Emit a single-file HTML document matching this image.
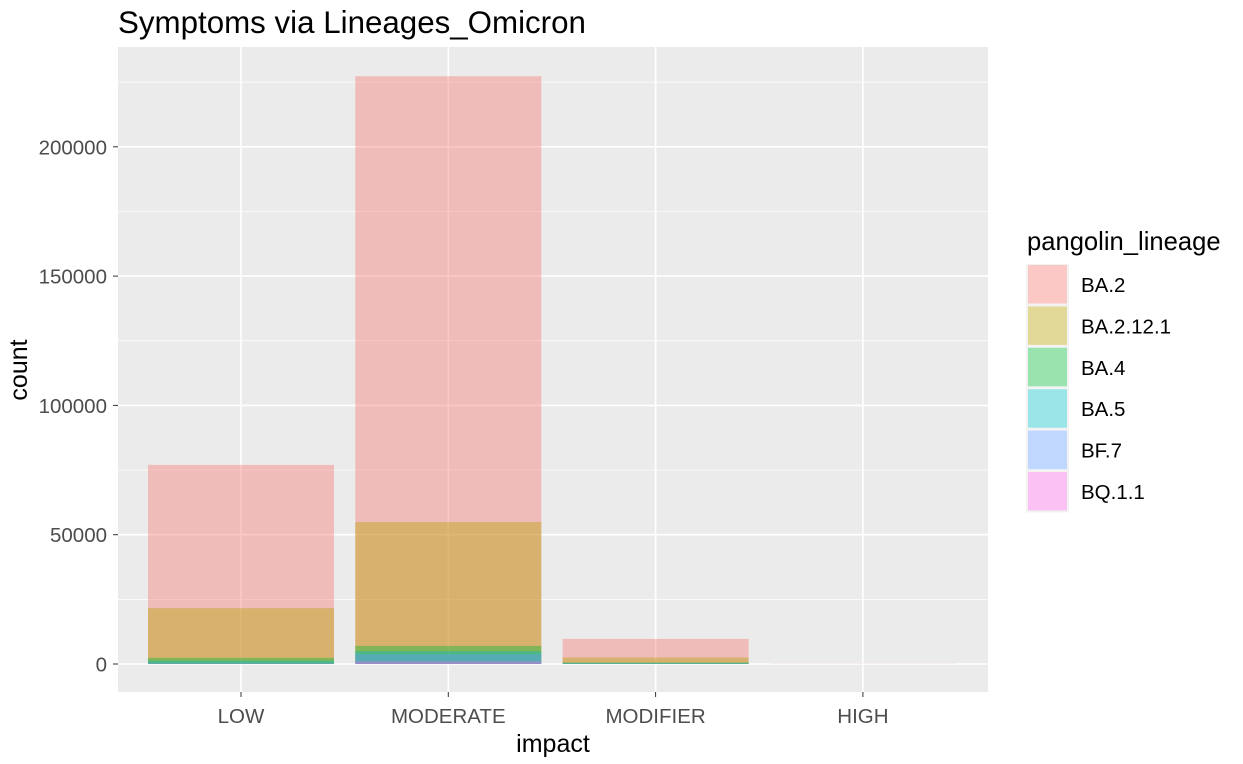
<!DOCTYPE html>
<html><head><meta charset="utf-8"><style>
body{margin:0;background:#fff;font-family:"Liberation Sans",sans-serif}
</style></head><body>
<svg id="c" width="1243" height="759" xmlns="http://www.w3.org/2000/svg">
<text x="118" y="33" font-size="31.3" fill="#000">Symptoms via Lineages_Omicron</text>
<rect x="118" y="47" width="870" height="645" fill="#EBEBEB"/>
<g id="grid"></g><g id="bars"></g><g id="axes"></g><g id="legend"></g>
<text x="553" y="752" font-size="25" text-anchor="middle" fill="#000">impact</text>
<text transform="translate(27,370) rotate(-90)" font-size="25" text-anchor="middle" fill="#000">count</text>
</svg>
<script>
const categories=["LOW","MODERATE","MODIFIER","HIGH"];
const lineages=["BA.2","BA.2.12.1","BA.4","BA.5","BF.7","BQ.1.1"];
const colors=["#F8766D","#B79F00","#00BA38","#00BFC4","#619CFF","#F564E3"];
const BA2=[77000,227300,9700,60];
const BA2121=[21600,54900,2500,20];
const BA4=[2400,7000,600,5];
const BA5=[1300,5000,400,5];
const BF7=[300,3800,100,2];
const BQ11=[100,1000,50,1];
const series=[BA2,BA2121,BA4,BA5,BF7,BQ11];
const yTicks=[0,50000,100000,150000,200000];
const ns="http://www.w3.org/2000/svg";
const y0=664,pxPer=129.3/50000;
const y=v=>y0-v*pxPer;
const x=i=>241+i*207.3;
const bw=186;
function mk(tag,attrs,parent){const e=document.createElementNS(ns,tag);for(const k in attrs)e.setAttribute(k,attrs[k]);document.getElementById(parent).appendChild(e);return e;}
for(let i=0;i<yTicks.length;i++){
 const t=yTicks[i];
 const g=mk("line",{x1:118,x2:988,y1:y(t),y2:y(t),stroke:"#fff","stroke-width":1.6},"grid");
 
 
 const m=mk("line",{x1:118,x2:988,y1:y(t+25000),y2:y(t+25000),stroke:"#fff","stroke-width":0.7},"grid");
 
 
 const l=mk("text",{x:107,y:y(t)+7.5,"font-size":20.5,"text-anchor":"end",fill:"#4D4D4D"},"axes");
 l.textContent=t;
 
 
 const tk=mk("line",{x1:113,x2:118,y1:y(t),y2:y(t),stroke:"#333"},"axes");
 
 
}
const mm=mk("line",{x1:118,x2:988,y1:y(-12500),y2:y(-12500),stroke:"#fff","stroke-width":0.7},"grid");


categories.forEach((c,i)=>{
 const g=mk("line",{x1:x(i),x2:x(i),y1:47,y2:692,stroke:"#fff","stroke-width":1.6},"grid");
 
 
 const l=mk("text",{x:x(i),y:723,"font-size":20.5,"text-anchor":"middle",fill:"#4D4D4D"},"axes");
 l.textContent=c;
 
 
 const tk=mk("line",{x1:x(i),x2:x(i),y1:692,y2:697,stroke:"#333"},"axes");
 
 
});
series.forEach((s,j)=>{
 s.forEach((v,i)=>{
  const r=mk("rect",{x:x(i)-bw/2,y:y(v),width:bw,height:y0-y(v),fill:colors[j],"fill-opacity":0.4},"bars");
  
  
 });
});
const lt=mk("text",{x:1027,y:250,"font-size":25.6,fill:"#000"},"legend");
lt.textContent="pangolin_lineage";


lineages.forEach((n,j)=>{
 const yy=265+j*41.4;
 const bg=mk("rect",{x:1026,y:yy-1,width:43,height:41.4,fill:"#F2F2F2"},"legend");
 
 
 const w=mk("rect",{x:1028,y:yy,width:39,height:38.5,fill:"#fff"},"legend");
 
 
 const k=mk("rect",{x:1028,y:yy,width:39,height:38.5,fill:colors[j],"fill-opacity":0.4},"legend");
 
 
 const t=mk("text",{x:1081,y:yy+27,"font-size":20.5,fill:"#000"},"legend");
 t.textContent=n;
 
 
});
</script>
</body></html>
